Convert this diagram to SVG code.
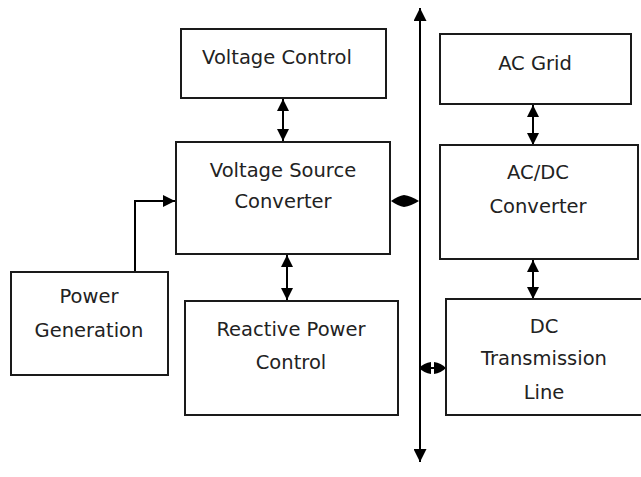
<svg xmlns="http://www.w3.org/2000/svg" width="641" height="477" viewBox="0 0 641 477">
<style>
.box{fill:#fff;stroke:#1a1a1a;stroke-width:2}
.lbl{font-family:"DejaVu Sans",sans-serif;font-size:19.5px;fill:#222;text-anchor:middle}
.conn{fill:none;stroke:#000;stroke-width:2}
.head{fill:#000;stroke:none}
</style>
<defs>
<marker id="ah" viewBox="0 0 12 12" refX="12" refY="6" markerWidth="13" markerHeight="13" markerUnits="userSpaceOnUse" orient="auto-start-reverse">
<path d="M0,0 L12,6 L0,12 Z" fill="#000"/>
</marker>
<marker id="ahs" viewBox="0 0 12 12" refX="12" refY="6" markerWidth="12" markerHeight="12" markerUnits="userSpaceOnUse" orient="auto-start-reverse">
<path d="M0,0 L12,6 L0,12 Z" fill="#000"/>
</marker>
</defs>
<rect width="641" height="477" fill="#fff"/>
<g id="connectors">
<line class="conn" x1="420" y1="462" x2="420" y2="8" marker-end="url(#ah)" marker-start="url(#ah)"/>
<line class="conn" x1="283" y1="99" x2="283" y2="141" marker-start="url(#ahs)" marker-end="url(#ahs)"/>
<line class="conn" x1="287" y1="255" x2="287" y2="300" marker-start="url(#ahs)" marker-end="url(#ahs)"/>
<line class="conn" x1="533" y1="105" x2="533" y2="145" marker-start="url(#ahs)" marker-end="url(#ahs)"/>
<line class="conn" x1="533" y1="260" x2="533" y2="299" marker-start="url(#ahs)" marker-end="url(#ahs)"/>
<polyline class="conn" points="135,271 135,201 175,201" marker-end="url(#ahs)"/>
<path class="head" d="M391,201 Q398,196 404,195 Q411,196 419,201 Q411,206 404,207 Q398,206 391,201 Z"/>
<path class="head" d="M419,368 Q424,363 431,362 L431,374 Q424,373 419,368 Z"/>
<path class="head" d="M446,368 Q441,363 434,362 L434,374 Q441,373 446,368 Z"/>
<line class="conn" x1="430" y1="368" x2="435" y2="368"/>
</g>
<g id="voltage-control">
<rect class="box" x="181" y="29" width="205" height="69"/>
<text class="lbl" x="277" y="64">Voltage Control</text>
</g>
<g id="vsc">
<rect class="box" x="176" y="142" width="214" height="112"/>
<text class="lbl" x="283" y="177">Voltage Source</text>
<text class="lbl" x="283" y="208">Converter</text>
</g>
<g id="power-generation">
<rect class="box" x="11" y="272" width="157" height="103"/>
<text class="lbl" x="89" y="303">Power</text>
<text class="lbl" x="89" y="337">Generation</text>
</g>
<g id="reactive-power-control">
<rect class="box" x="185" y="301" width="213" height="114"/>
<text class="lbl" x="291" y="336">Reactive Power</text>
<text class="lbl" x="291" y="369">Control</text>
</g>
<g id="ac-grid">
<rect class="box" x="440" y="34" width="191" height="70"/>
<text class="lbl" x="535" y="70">AC Grid</text>
</g>
<g id="acdc">
<rect class="box" x="440" y="145" width="198" height="114"/>
<text class="lbl" x="538" y="179">AC/DC</text>
<text class="lbl" x="538" y="213">Converter</text>
</g>
<g id="dc-line">
<rect class="box" x="446" y="299" width="200" height="116"/>
<text class="lbl" x="544" y="333">DC</text>
<text class="lbl" x="544" y="365">Transmission</text>
<text class="lbl" x="544" y="399">Line</text>
</g>
</svg>
